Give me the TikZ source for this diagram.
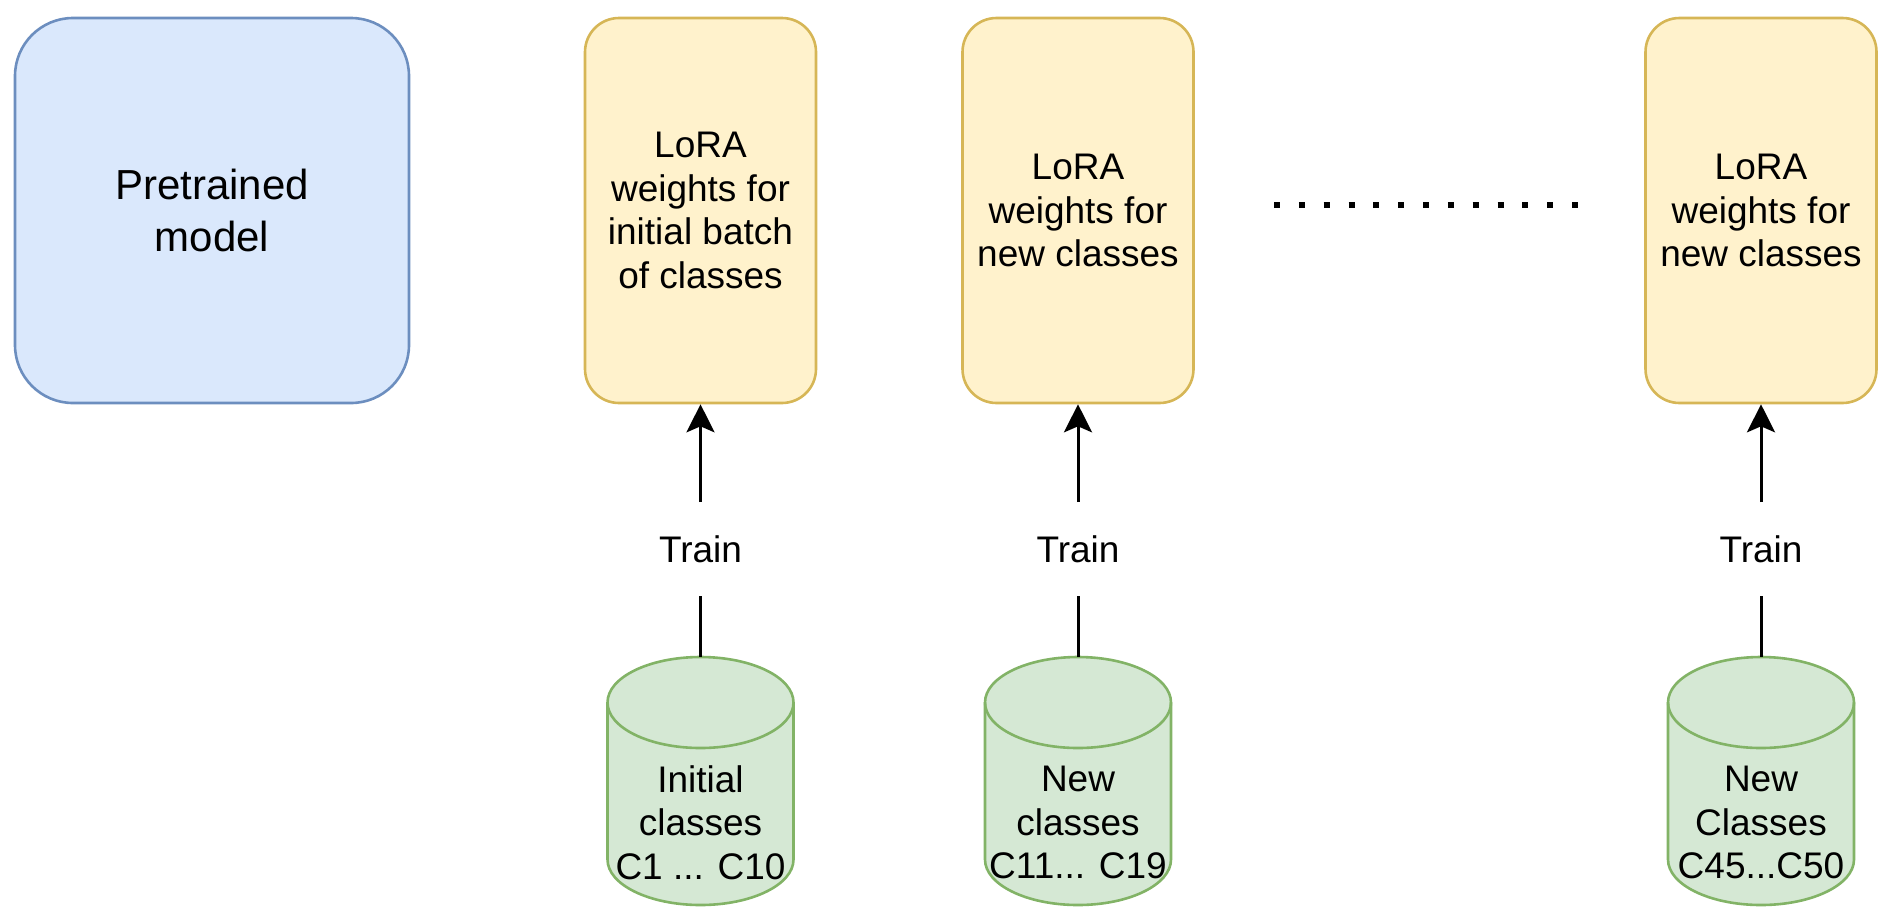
\documentclass[tikz,border=0pt]{standalone}
\usepackage{fontspec}
\setmainfont{Liberation Sans}
\usetikzlibrary{arrows.meta}

\definecolor{modelfill}{HTML}{DAE8FC}
\definecolor{modelline}{HTML}{6C8EBF}
\definecolor{lorafill}{HTML}{FFF2CC}
\definecolor{loraline}{HTML}{D6B656}
\definecolor{dbfill}{HTML}{D5E8D4}
\definecolor{dbline}{HTML}{82B366}

% cylinder outline, #1 = x of its axis
\newcommand{\dbcyl}[1]{%
  \draw[line width=1.3pt,draw=dbline,fill=dbfill] (#1-93,-702.5) -- (#1-93,-859.5)
    arc[start angle=180,end angle=360,x radius=46.5pt,y radius=22.75pt]
    -- (#1+93,-702.5)
    arc[start angle=0,end angle=180,x radius=46.5pt,y radius=22.75pt] -- cycle;
  \draw[line width=1.3pt,draw=dbline] (#1-93,-702.5)
    arc[start angle=180,end angle=360,x radius=46.5pt,y radius=22.75pt];}

\begin{document}
\begin{tikzpicture}[x=0.5pt,y=0.5pt,
  every node/.style={font=\fontsize{18.5}{21.75}\selectfont,align=center},
  modelbox/.style={draw=modelline,fill=modelfill,line width=1.3pt,rounded corners=29pt,
    minimum width=197pt,minimum height=192.5pt,font=\fontsize{21}{26}\selectfont},
  lorabox/.style={draw=loraline,fill=lorafill,line width=1.3pt,rounded corners=17pt,
    minimum width=115.5pt,minimum height=192.5pt,inner sep=0pt},
  trainlbl/.style={minimum height=46.5pt,inner sep=0pt},
  dbbox/.style={minimum width=93pt,minimum height=124pt,inner sep=0pt},
  dbtext/.style={yshift=-20.75pt},
  link/.style={line width=1.5pt},
  dotrow/.style={line width=3pt,dash pattern=on 3pt off 9.42pt}]
\useasboundingbox (0,0) rectangle (1890,-922);

\node[modelbox] (model) at (212,-210.5) {Pretrained\\model};
\node[lorabox] (lora1) at (700.5,-210.5) {LoRA\\weights for\\initial batch\\of classes};
\node[lorabox] (lora2) at (1078,-210.5) {LoRA\\weights for\\new classes};
\node[lorabox] (lora3) at (1761,-210.5) {LoRA\\weights for\\new classes};

\coordinate (dotsL) at (1274,-205);
\coordinate (dotsR) at (1578,-205);
\draw[dotrow] (dotsL) -- (dotsR);

\dbcyl{700.5}
\dbcyl{1078}
\dbcyl{1761}
\node[dbbox,label={[dbtext]center:Initial\\classes\\C1 ... C10}] (db1) at (700.5,-781) {};
\node[dbbox,label={[dbtext]center:New\\classes\\C11... C19}] (db2) at (1078,-781) {};
\node[dbbox,label={[dbtext]center:New\\Classes\\C45...C50}] (db3) at (1761,-781) {};

\node[trainlbl] (train1) at (700.5,-549) {Train};
\node[trainlbl] (train2) at (1078,-549) {Train};
\node[trainlbl] (train3) at (1761,-549) {Train};

\draw[link] (db1) -- (train1);
\draw[link] (db2) -- (train2);
\draw[link] (db3) -- (train3);
\draw[link,-{Stealth[length=14pt,width=14pt,inset=3pt]}] (train1) -- (lora1);
\draw[link,-{Stealth[length=14pt,width=14pt,inset=3pt]}] (train2) -- (lora2);
\draw[link,-{Stealth[length=14pt,width=14pt,inset=3pt]}] (train3) -- (lora3);
\end{tikzpicture}
\end{document}
